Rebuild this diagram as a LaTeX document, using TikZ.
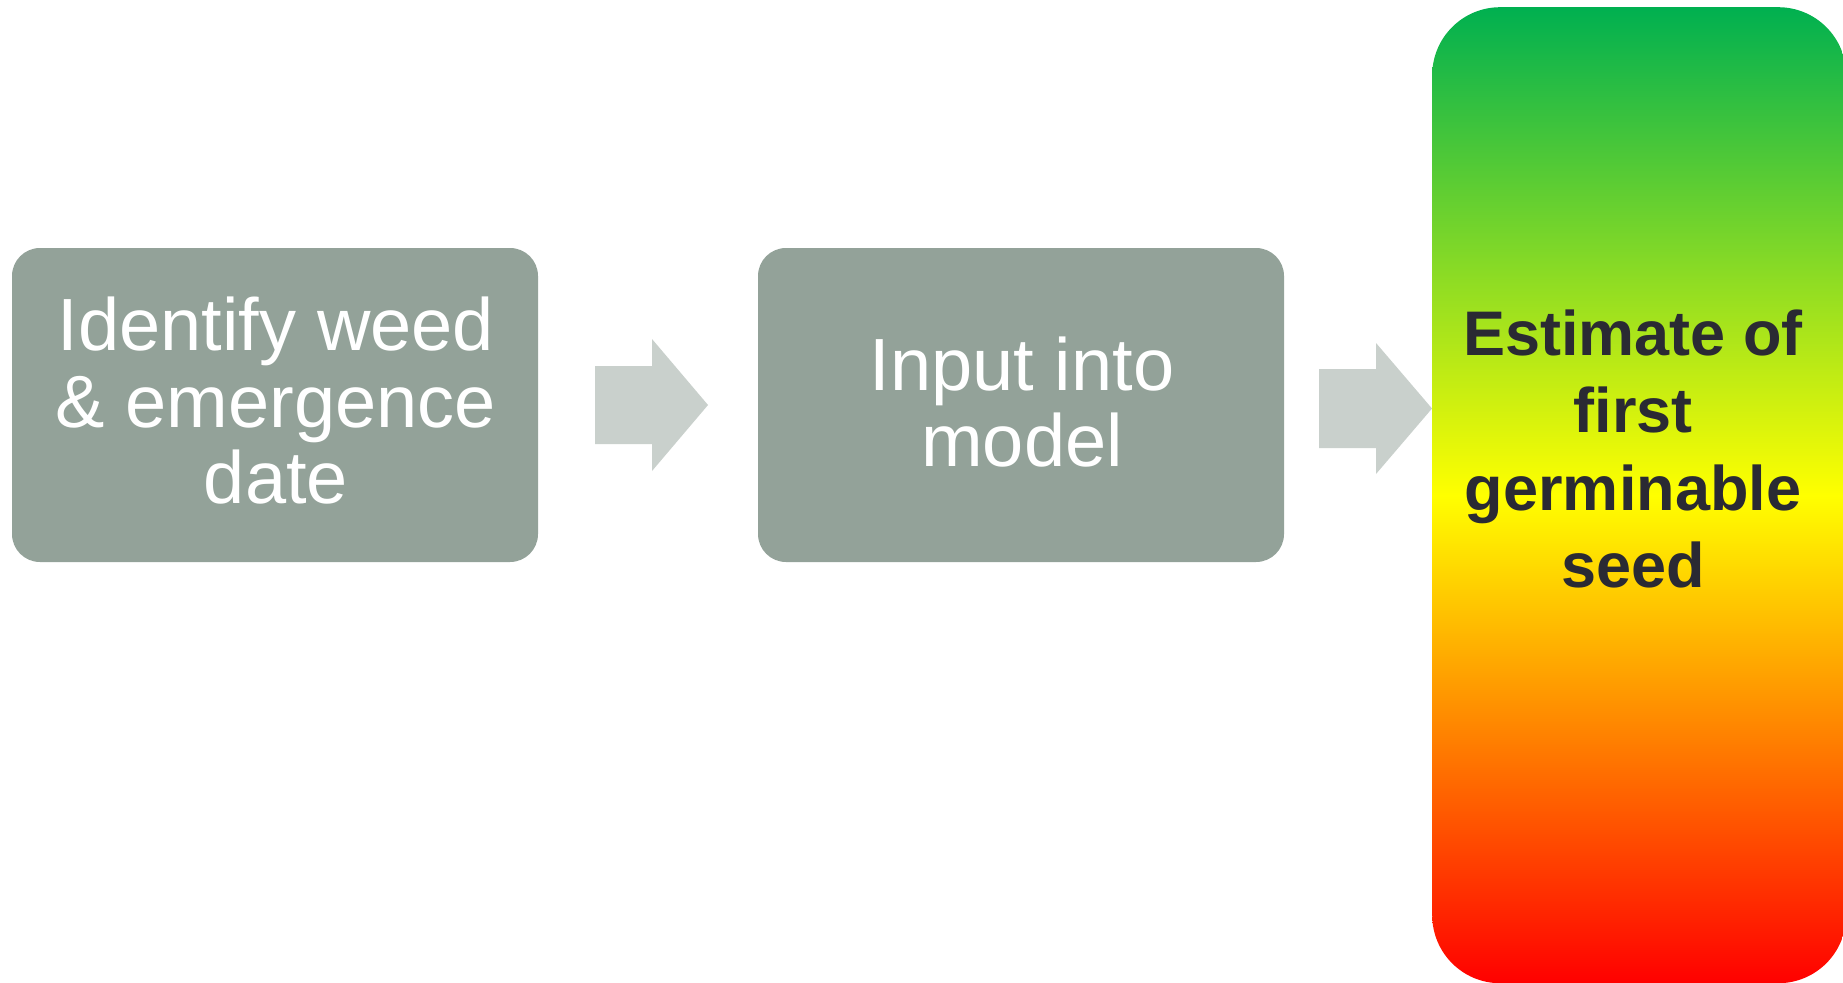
\documentclass[tikz,border=0pt]{standalone}
\usepackage{fontspec}
\setmainfont{Liberation Sans}
\usetikzlibrary{calc}

\definecolor{boxgray}{HTML}{93A299}
\definecolor{arrowgray}{HTML}{C9D0CC}
\definecolor{darktext}{HTML}{2A2A33}
\definecolor{sgreen}{HTML}{00B050}
\definecolor{syellow}{HTML}{FFFF00}
\definecolor{sred}{HTML}{FF0000}

% green at the top, yellow in the middle, red at the bottom
\pgfdeclareverticalshading{traffic}{100bp}{%
  color(0bp)=(sred); color(25bp)=(sred); color(50bp)=(syellow);
  color(75bp)=(sgreen); color(100bp)=(sgreen)}

\tikzset{
  stepbox/.style={fill=boxgray, draw=none, rounded corners=28pt,
    minimum width=526pt, minimum height=314pt, inner sep=0pt},
  resultbox/.style={shading=traffic, draw=none, rounded corners=68pt,
    minimum width=414pt, minimum height=976pt, inner sep=0pt, anchor=north west},
  steptext/.style={text=white, align=center, inner sep=0pt,
    font=\fontsize{74pt}{76.5pt}\selectfont},
  resulttext/.style={text=darktext, align=center, inner sep=0pt,
    font=\fontsize{63pt}{77.3pt}\selectfont\bfseries},
  blockarrow/.style={fill=arrowgray, draw=none},
}

\begin{document}
\begin{tikzpicture}[x=1pt, y=-1pt]
  \useasboundingbox (0,0) rectangle (1843,982);
  \fill[white] (0,0) rectangle (1843,982);

  % the three stages
  \node[stepbox] (b1) at (275,405) {};
  \node[stepbox] (b2) at (1021,405) {};
  \node[resultbox] (b3) at (1432,7) {};

  \node[steptext] (t1) at (276,401) {Identify weed\\\& emergence\\date};
  \node[steptext] (t2) at (1022,402) {Input into\\model};
  \node[resulttext] (t3) at (1633,449) {Estimate of\\first\\germinable\\seed};

  % block arrows between the stages
  \coordinate (a1tail) at (595,405);
  \coordinate (a1tip) at (708,405);
  \fill[blockarrow] ($(a1tail)+(0,-39)$) -- ($(a1tip)+(-56,-39)$)
    -- ($(a1tip)+(-56,-66)$) -- (a1tip) -- ($(a1tip)+(-56,66)$)
    -- ($(a1tip)+(-56,39)$) -- ($(a1tail)+(0,39)$) -- cycle;

  \coordinate (a2tail) at (1319,408.5);
  \coordinate (a2tip) at (b3.west |- a2tail);
  \fill[blockarrow] ($(a2tail)+(0,-39.5)$) -- ($(a2tip)+(-56,-39.5)$)
    -- ($(a2tip)+(-56,-65.5)$) -- (a2tip) -- ($(a2tip)+(-56,65.5)$)
    -- ($(a2tip)+(-56,39.5)$) -- ($(a2tail)+(0,39.5)$) -- cycle;
\end{tikzpicture}
\end{document}
